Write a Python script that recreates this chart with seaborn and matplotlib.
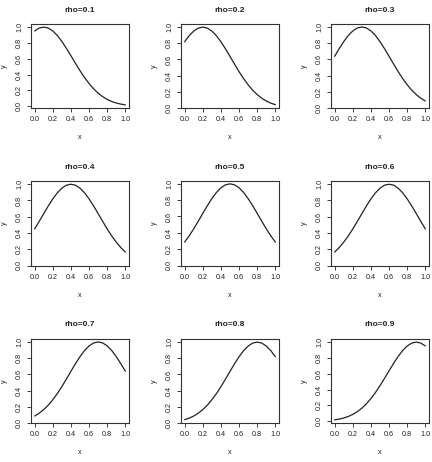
import numpy as np
import pandas as pd
import seaborn as sns
import matplotlib
matplotlib.use('Agg')
import matplotlib.pyplot as plt

# x grid and curve values
x = [0.00, 0.05, 0.10, 0.15, 0.20, 0.25, 0.30, 0.35, 0.40, 0.45, 0.50,
     0.55, 0.60, 0.65, 0.70, 0.75, 0.80, 0.85, 0.90, 0.95, 1.00]
rhos = ['0.1', '0.2', '0.3', '0.4', '0.5', '0.6', '0.7', '0.8', '0.9']

y_01 = [0.951, 0.988, 1.000, 0.988, 0.951, 0.894, 0.819, 0.732, 0.638, 0.542, 0.449,
        0.363, 0.287, 0.220, 0.165, 0.121, 0.086, 0.060, 0.041, 0.027, 0.017]
y_02 = [0.819, 0.894, 0.951, 0.988, 1.000, 0.988, 0.951, 0.894, 0.819, 0.732, 0.638,
        0.542, 0.449, 0.363, 0.287, 0.220, 0.165, 0.121, 0.086, 0.060, 0.041]
y_03 = [0.638, 0.732, 0.819, 0.894, 0.951, 0.988, 1.000, 0.988, 0.951, 0.894, 0.819,
        0.732, 0.638, 0.542, 0.449, 0.363, 0.287, 0.220, 0.165, 0.121, 0.086]
y_04 = [0.449, 0.542, 0.638, 0.732, 0.819, 0.894, 0.951, 0.988, 1.000, 0.988, 0.951,
        0.894, 0.819, 0.732, 0.638, 0.542, 0.449, 0.363, 0.287, 0.220, 0.165]
y_05 = [0.287, 0.363, 0.449, 0.542, 0.638, 0.732, 0.819, 0.894, 0.951, 0.988, 1.000,
        0.988, 0.951, 0.894, 0.819, 0.732, 0.638, 0.542, 0.449, 0.363, 0.287]
y_06 = [0.165, 0.220, 0.287, 0.363, 0.449, 0.542, 0.638, 0.732, 0.819, 0.894, 0.951,
        0.988, 1.000, 0.988, 0.951, 0.894, 0.819, 0.732, 0.638, 0.542, 0.449]
y_07 = [0.086, 0.121, 0.165, 0.220, 0.287, 0.363, 0.449, 0.542, 0.638, 0.732, 0.819,
        0.894, 0.951, 0.988, 1.000, 0.988, 0.951, 0.894, 0.819, 0.732, 0.638]
y_08 = [0.041, 0.060, 0.086, 0.121, 0.165, 0.220, 0.287, 0.363, 0.449, 0.542, 0.638,
        0.732, 0.819, 0.894, 0.951, 0.988, 1.000, 0.988, 0.951, 0.894, 0.819]
y_09 = [0.017, 0.027, 0.041, 0.060, 0.086, 0.121, 0.165, 0.220, 0.287, 0.363, 0.449,
        0.542, 0.638, 0.732, 0.819, 0.894, 0.951, 0.988, 1.000, 0.988, 0.951]
ys = [y_01, y_02, y_03, y_04, y_05, y_06, y_07, y_08, y_09]

sns.set_style('white')
plt.rcParams['font.family'] = ['Liberation Sans', 'DejaVu Sans']

W, H = 432, 462
fig = plt.figure(figsize=(W / 100, H / 100), dpi=100)

lefts = [31, 181, 331]
tops = [24, 181.5, 339]
bw, bh = 98, 84
txt = '#222222'

for k in range(9):
    r, c = divmod(k, 3)
    ax = fig.add_axes([lefts[c] / W, 1 - (tops[r] + bh) / H, bw / W, bh / H])
    df = pd.DataFrame({'x': x, 'y': ys[k]})
    sns.lineplot(data=df, x='x', y='y', ax=ax, color='#222222', linewidth=0.9)
    ax.margins(0.04)
    ax.set_xticks([0, 0.2, 0.4, 0.6, 0.8, 1.0])
    ax.set_yticks([0, 0.2, 0.4, 0.6, 0.8, 1.0])
    ax.set_xticklabels(['0.0', '0.2', '0.4', '0.6', '0.8', '1.0'])
    ax.set_yticklabels(['0.0', '0.2', '0.4', '0.6', '0.8', '1.0'],
                       rotation=90, va='center')
    ax.tick_params(direction='out', length=2.6, width=0.6, labelsize=5.2,
                   pad=3.2, bottom=True, left=True, colors=txt)
    for s in ax.spines.values():
        s.set_linewidth(0.8)
        s.set_color('#333333')
    ax.set_xlabel('x', fontsize=5.2, labelpad=8, color=txt)
    ax.set_ylabel('y', fontsize=5.2, labelpad=5.5, color=txt)
    ax.set_title('rho=' + rhos[k], fontsize=6, fontweight='bold', pad=9, color=txt)

fig.savefig('out.png', dpi=100)
